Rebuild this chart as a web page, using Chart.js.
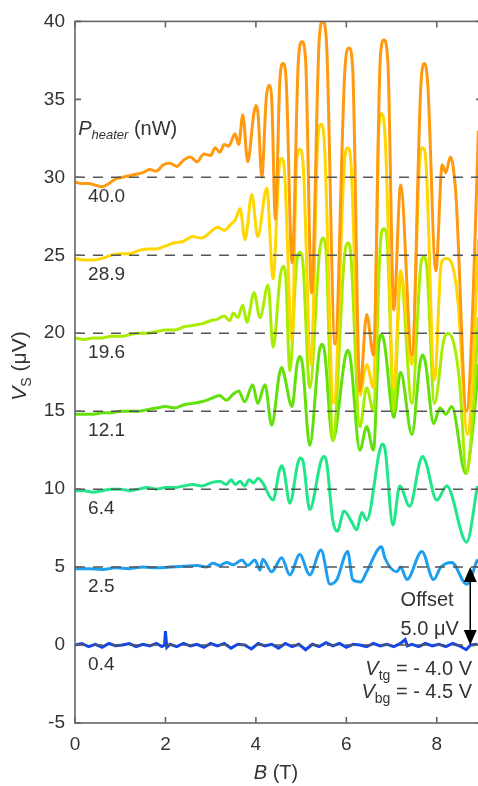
<!DOCTYPE html>
<html><head><meta charset="utf-8">
<script src="https://cdn.jsdelivr.net/npm/chart.js@4.4.0/dist/chart.umd.min.js"></script>
<style>html,body{margin:0;padding:0;background:#fff;overflow:hidden;width:478px;height:786px}canvas{display:block}</style>
</head><body><canvas id="c" width="486" height="786"></canvas>
<script>
const xTicks=[0,2,4,6,8];
const yTicks=[-5,0,5,10,15,20,25,30,35,40];
const offsets=[30,25,20,15,10,5,0];
const powerLabels=['40.0','28.9','19.6','12.1','6.4','2.5','0.4'];
const colors=['#ff9a10','#ffd600','#a8ec00','#62e00a','#20e68a','#1f9eee','#1448e6'];

// 40.0 nW
const bOrange=[0,0.15,0.3,0.45,0.6,0.75,0.9,1.05,1.2,1.35,1.5,1.65,1.8,1.95,2.1,2.25,2.4,2.55,2.7,2.85,3.0,3.1,3.2,3.3,3.4,3.47,3.54,3.62,3.71,3.82,3.95,4.0,4.05,4.13,4.23,4.29,4.35,4.43,4.53,4.6,4.67,4.8,4.94,5.02,5.1,5.23,5.4,5.48,5.56,5.75,5.97,6.06,6.14,6.3,6.45,6.6,6.75,6.83,6.92,7.05,7.2,7.45,7.65,7.73,7.8,7.98,8.12,8.2,8.3,8.42,8.66,8.8,8.92];
const vOrange=[29.7,29.6,29.6,29.5,29.4,29.6,29.9,30.0,30.1,30.2,30.3,30.5,30.4,30.8,30.9,30.7,31.1,31.3,31.0,31.5,31.4,31.9,31.6,32.1,32.0,32.4,32.8,32.1,34.0,31.0,34.0,34.6,34.0,30.0,35.1,35.9,35.0,27.3,36.2,37.3,36.2,24.5,37.5,38.7,37.5,22.6,38.8,40.0,38.7,19.3,37.0,38.3,37.0,16.3,21.2,18.6,37.6,38.8,37.3,21.5,29.5,18.6,36.0,37.3,36.0,24.0,30.8,30.3,31.3,29.0,15.0,22.0,33.0];
// 28.9 nW
const bYellow=[0,0.2,0.4,0.6,0.8,1.0,1.2,1.4,1.6,1.8,2.0,2.2,2.4,2.6,2.8,3.0,3.15,3.3,3.45,3.55,3.65,3.76,3.91,4.04,4.24,4.38,4.51,4.57,4.63,4.8,4.9,4.97,5.04,5.22,5.37,5.44,5.51,5.72,5.96,6.03,6.1,6.3,6.45,6.6,6.72,6.78,6.86,7.05,7.2,7.45,7.62,7.69,7.76,7.95,8.1,8.2,8.35,8.47,8.68,8.82,8.92];
const vYellow=[24.8,24.7,24.7,24.8,25.0,25.1,25.1,25.3,25.4,25.4,25.6,25.8,25.9,26.2,26.1,26.5,26.8,26.6,27.0,27.3,28.0,26.0,28.9,26.2,29.3,23.5,30.5,31.2,30.5,19.5,31.0,31.8,31.0,18.0,32.5,33.4,32.4,15.5,31.0,31.9,31.0,16.0,18.0,16.5,33.2,34.1,32.5,16.5,24.0,18.0,31.0,31.9,31.0,17.0,24.5,24.8,24.3,22.0,13.5,19.0,26.0];
// 19.6 nW
const bLime=[0,0.2,0.4,0.6,0.8,1.0,1.2,1.4,1.6,1.8,2.0,2.2,2.4,2.6,2.8,3.0,3.15,3.3,3.42,3.5,3.6,3.71,3.8,3.96,4.09,4.27,4.38,4.54,4.6,4.66,4.75,4.9,4.97,5.04,5.19,5.41,5.48,5.55,5.7,5.96,6.03,6.1,6.3,6.45,6.6,6.76,6.83,6.9,7.05,7.2,7.45,7.64,7.71,7.78,7.95,8.15,8.25,8.38,8.5,8.66,8.8,8.92];
const vLime=[19.7,19.6,19.7,19.7,19.8,19.8,19.9,20.0,20.0,20.1,20.2,20.2,20.4,20.5,20.6,20.8,20.9,21.1,20.8,21.3,21.0,21.8,20.7,22.6,21.0,23.1,19.1,23.7,24.3,23.6,17.6,24.5,25.2,24.5,16.5,25.3,26.1,25.3,13.1,25.0,25.8,25.0,14.0,16.5,15.0,26.0,26.7,26.0,15.0,23.7,15.5,24.2,24.9,24.2,15.5,19.5,20.0,19.3,17.0,11.0,15.0,21.0];
// 12.1 nW
const bGreen=[0,0.2,0.4,0.6,0.8,1.0,1.2,1.4,1.6,1.8,2.0,2.2,2.4,2.6,2.8,3.0,3.2,3.35,3.5,3.62,3.75,3.93,4.04,4.2,4.35,4.52,4.57,4.62,4.8,4.91,4.97,5.03,5.19,5.4,5.46,5.52,5.7,5.97,6.03,6.09,6.3,6.45,6.6,6.72,6.78,6.84,7.05,7.2,7.45,7.63,7.69,7.75,7.93,8.07,8.2,8.33,8.64,8.8,8.92];
const vGreen=[14.8,14.8,14.8,14.9,14.9,15.0,15.0,15.0,15.1,15.2,15.3,15.2,15.4,15.5,15.6,15.8,16.0,15.7,16.1,16.3,15.6,16.7,15.5,16.7,14.1,17.4,17.8,17.4,15.3,18.0,18.5,18.0,12.8,18.8,19.3,18.8,13.1,18.4,18.9,18.4,12.5,14.0,12.5,19.4,19.9,19.4,14.6,17.5,13.5,18.1,18.6,18.1,14.2,15.2,14.8,15.3,11.0,14.0,18.0];
// 6.4 nW
const bTeal=[0,0.2,0.4,0.6,0.8,1.0,1.2,1.4,1.6,1.8,2.0,2.2,2.4,2.6,2.8,3.0,3.2,3.35,3.45,3.55,3.65,3.75,3.85,3.95,4.05,4.15,4.38,4.52,4.57,4.62,4.75,4.93,4.99,5.05,5.19,5.44,5.5,5.56,5.7,5.8,5.95,6.1,6.23,6.34,6.45,6.74,6.8,6.86,7.03,7.18,7.4,7.63,7.69,7.75,8.0,8.22,8.66,8.9];
const vTeal=[9.9,9.9,9.8,9.9,10.0,10.0,9.9,10.0,10.1,10.0,10.1,10.1,10.2,10.3,10.2,10.4,10.5,10.3,10.6,10.3,10.5,10.2,10.6,10.4,10.7,10.4,9.3,11.2,11.5,11.2,9.1,11.7,12.0,11.7,8.7,11.8,12.1,11.8,8.0,7.3,8.6,8.0,7.4,8.5,8.0,12.5,12.9,12.5,7.7,10.2,8.9,11.8,12.1,11.8,9.3,10.2,6.6,10.2];
// 2.5 nW
const bSky=[0,0.3,0.6,0.9,1.2,1.5,1.8,2.1,2.4,2.7,2.9,3.05,3.2,3.35,3.5,3.69,3.82,3.98,4.09,4.15,4.35,4.57,4.75,4.97,5.19,5.44,5.64,5.79,6.03,6.14,6.32,6.45,6.78,6.85,7.12,7.2,7.34,7.67,7.93,8.09,8.33,8.66,8.9];
const vSky=[4.9,4.9,4.85,4.95,4.9,5.0,4.95,5.0,5.05,5.1,5.0,5.25,5.1,5.3,5.15,5.45,5.1,5.45,4.8,5.5,4.7,5.6,4.5,5.8,4.5,6.1,3.9,4.2,6.0,4.2,4.05,4.7,6.3,5.6,4.7,5.0,4.2,6.0,4.2,5.0,5.3,3.9,5.5];
// 0.4 nW
const bBlue=[0,0.15,0.3,0.45,0.6,0.75,0.9,1.05,1.2,1.35,1.5,1.65,1.8,1.92,1.98,2.0,2.03,2.1,2.25,2.4,2.55,2.7,2.85,3.0,3.15,3.3,3.45,3.6,3.75,3.9,4.05,4.2,4.35,4.5,4.65,4.8,4.95,5.1,5.25,5.4,5.55,5.7,5.85,6.0,6.15,6.3,6.45,6.6,6.75,6.9,7.05,7.2,7.3,7.35,7.45,7.6,7.75,7.9,8.05,8.2,8.35,8.5,8.65,8.75,8.9];
const vBlue=[0.0,0.1,-0.1,0.05,-0.15,0.1,-0.05,0.0,0.1,-0.1,0.05,-0.05,0.1,-0.1,0.0,0.9,-0.15,0.05,-0.1,0.1,-0.05,0.05,-0.15,0.1,-0.05,0.1,-0.2,0.05,0.0,-0.25,0.1,-0.05,0.05,-0.2,0.1,-0.1,0.05,-0.3,0.05,-0.1,0.15,-0.05,0.1,-0.15,0.05,0.0,-0.1,0.1,-0.05,0.05,-0.1,0.1,0.35,-0.05,0.05,-0.1,0.1,-0.05,0.05,-0.1,0.1,-0.05,-0.3,0.0,0.05];

const seriesB=[bOrange,bYellow,bLime,bGreen,bTeal,bSky,bBlue];
const seriesV=[vOrange,vYellow,vLime,vGreen,vTeal,vSky,vBlue];

const FONT='"Liberation Sans", Arial, sans-serif';
const TXT='#333';

function rich(ctx,x,y,parts,align){
  let w=0;
  parts.forEach(p=>{ctx.font=p.f;w+=ctx.measureText(p.t).width;});
  let cx = align==='right'? x-w : align==='center'? x-w/2 : x;
  parts.forEach(p=>{ctx.font=p.f;ctx.fillText(p.t,cx,y+(p.dy||0));cx+=ctx.measureText(p.t).width;});
}

const annot={
  id:'annot',
  afterDatasetsDraw(chart){
    const {ctx,chartArea:a,scales:{x,y}}=chart;
    ctx.save();
    ctx.strokeStyle='#555';ctx.lineWidth=1.5;ctx.setLineDash([10,8]);
    offsets.forEach(o=>{const py=y.getPixelForValue(o);ctx.beginPath();ctx.moveTo(a.left,py);ctx.lineTo(a.right,py);ctx.stroke();});
    ctx.setLineDash([]);
    ctx.strokeStyle='#666';ctx.lineWidth=1.6;
    ctx.strokeRect(a.left,a.top,a.right-a.left,a.bottom-a.top);
    ctx.beginPath();
    xTicks.forEach(v=>{const px=x.getPixelForValue(v);ctx.moveTo(px,a.bottom);ctx.lineTo(px,a.bottom-6);ctx.moveTo(px,a.top);ctx.lineTo(px,a.top+6);});
    yTicks.forEach(v=>{const py=y.getPixelForValue(v);ctx.moveTo(a.left,py);ctx.lineTo(a.left+6,py);ctx.moveTo(a.right,py);ctx.lineTo(a.right-6,py);});
    ctx.stroke();
    ctx.fillStyle=TXT;ctx.textBaseline='middle';ctx.textAlign='left';
    const n='19px '+FONT;
    offsets.forEach((o,i)=>{ctx.font=n;ctx.fillText(powerLabels[i],x.getPixelForValue(0.29),y.getPixelForValue(o-1.25));});
    ctx.textBaseline='alphabetic';
    rich(ctx,x.getPixelForValue(0.07),y.getPixelForValue(32.7),[
      {t:'P',f:'italic 20px '+FONT},{t:'heater',f:'italic 13px '+FONT,dy:4},{t:' (nW)',f:'20px '+FONT}],'left');
    const ax=x.getPixelForValue(8.74), y5=y.getPixelForValue(5), y0=y.getPixelForValue(0);
    ctx.strokeStyle='#000';ctx.fillStyle='#000';ctx.lineWidth=1.5;
    ctx.beginPath();ctx.moveTo(ax,y5+12);ctx.lineTo(ax,y0-12);ctx.stroke();
    ctx.beginPath();ctx.moveTo(ax,y5);ctx.lineTo(ax-6.5,y5+15);ctx.lineTo(ax+6.5,y5+15);ctx.closePath();ctx.fill();
    ctx.beginPath();ctx.moveTo(ax,y0);ctx.lineTo(ax-6.5,y0-15);ctx.lineTo(ax+6.5,y0-15);ctx.closePath();ctx.fill();
    ctx.fillStyle=TXT;
    ctx.font='20px '+FONT;ctx.fillText('Offset',x.getPixelForValue(7.2),y.getPixelForValue(2.5));
    ctx.fillText('5.0 \u03bcV',x.getPixelForValue(7.2),y.getPixelForValue(0.65));
    const rx=x.getPixelForValue(8.78);
    rich(ctx,rx,y.getPixelForValue(-1.9),[{t:'V',f:'italic 20px '+FONT},{t:'tg',f:'14px '+FONT,dy:5},{t:' = - 4.0 V',f:'20px '+FONT}],'right');
    rich(ctx,rx,y.getPixelForValue(-3.4),[{t:'V',f:'italic 20px '+FONT},{t:'bg',f:'14px '+FONT,dy:5},{t:' = - 4.5 V',f:'20px '+FONT}],'right');
    rich(ctx,276,779,[{t:'B',f:'italic 20px '+FONT},{t:' (T)',f:'20px '+FONT}],'center');
    ctx.translate(26,366);ctx.rotate(-Math.PI/2);
    rich(ctx,0,0,[{t:'V',f:'italic 21px '+FONT},{t:'S',f:'14px '+FONT,dy:5},{t:' (\u03bcV)',f:'21px '+FONT}],'center');
    ctx.restore();
  }
};

const datasets=seriesB.map((bs,i)=>({
  label:powerLabels[i],
  data:bs.map((b,j)=>({x:b,y:seriesV[i][j]})),
  borderColor:colors[i],
  borderWidth:3,
  pointRadius:0,
  fill:false,
  cubicInterpolationMode: i===6?'default':'monotone',
  tension: i===6?0:0.4
}));

new Chart(document.getElementById('c'),{
  type:'line',
  data:{datasets},
  options:{
    responsive:false,animation:false,devicePixelRatio:1,
    layout:{padding:{top:13,right:4,left:0,bottom:0}},
    plugins:{legend:{display:false},tooltip:{enabled:false}},
    scales:{
      x:{type:'linear',min:0,max:9,
        afterBuildTicks:s=>{s.ticks=xTicks.map(v=>({value:v}));},
        afterFit:s=>{s.height=63;},
        grid:{display:false,drawTicks:false},border:{display:false},
        ticks:{padding:10,autoSkip:false,maxRotation:0,color:TXT,font:{family:FONT,size:19}}},
      y:{type:'linear',min:-5,max:40,
        afterBuildTicks:s=>{s.ticks=yTicks.map(v=>({value:v}));},
        afterFit:s=>{s.width=75;},
        grid:{display:false,drawTicks:false},border:{display:false},
        ticks:{padding:10,color:TXT,font:{family:FONT,size:19}}}
    }
  },
  plugins:[annot]
});
</script></body></html>
